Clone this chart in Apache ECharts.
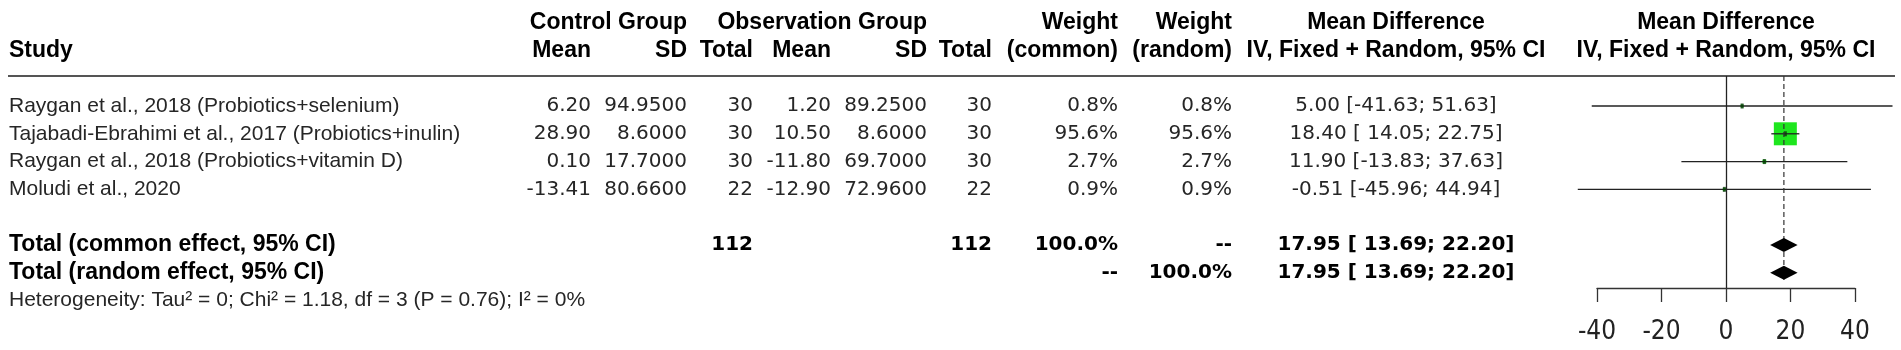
<!DOCTYPE html>
<html>
<head>
<meta charset="utf-8">
<script src="https://cdn.jsdelivr.net/npm/echarts@6/dist/echarts.min.js"></script>
<style>
html,body{margin:0;padding:0;background:#fff;}
#chart{width:1901px;height:350px;}
</style>
</head>
<body>
<div id="chart"></div>
<script>
// ---------------- data ----------------
const studies = [
  'Raygan et al., 2018 (Probiotics+selenium)',
  'Tajabadi-Ebrahimi et al., 2017 (Probiotics+inulin)',
  'Raygan et al., 2018 (Probiotics+vitamin D)',
  'Moludi et al., 2020'
];
const ctrlMean = [6.20, 28.90, 0.10, -13.41];
const ctrlSD   = [94.95, 8.60, 17.70, 80.66];
const ctrlN    = [30, 30, 30, 22];
const obsMean  = [1.20, 10.50, -11.80, -12.90];
const obsSD    = [89.25, 8.60, 69.70, 72.96];
const obsN     = [30, 30, 30, 22];
const weightCommon = [0.8, 95.6, 2.7, 0.9];
const weightRandom = [0.8, 95.6, 2.7, 0.9];
const md   = [5.00, 18.40, 11.90, -0.51];
const mdLo = [-41.63, 14.05, -13.83, -45.96];
const mdHi = [51.63, 22.75, 37.63, 44.94];

const pooledLabels = ['Total (common effect, 95% CI)', 'Total (random effect, 95% CI)'];
const totalCtrlN = 112;
const totalObsN = 112;
const pooledMD = [17.95, 17.95];
const pooledLo = [13.69, 13.69];
const pooledHi = [22.20, 22.20];
const heterogeneity = 'Heterogeneity: Tau\u00b2 = 0; Chi\u00b2 = 1.18, df = 3 (P = 0.76); I\u00b2 = 0%';

const xTickMin = -40, xTickMax = 40, xTickInterval = 20;

// ---------------- layout ----------------
const studyRows = [0, 1, 2, 3];
const pooledRows = [5, 6];
const hetRow = 7;
const FONT_TXT = "'Liberation Sans', Arial, sans-serif";
const FONT_NUM = "'DejaVu Sans', sans-serif";
const FONT_TICK = "'Liberation Sans Narrow', 'DejaVu Sans Condensed', 'Liberation Sans', sans-serif";
const C_TXT = '#262626';
const C_BOLD = '#000';
const GREEN = '#1ee61e';

const maxW = Math.max.apply(null, weightCommon);

const ciData = studyRows.map((r, i) => [r, md[i], mdLo[i], mdHi[i], weightCommon[i]]);
const diaData = pooledRows.map((r, i) => [r, pooledMD[i], pooledLo[i], pooledHi[i]]);

const chart = echarts.init(document.getElementById('chart'), null, {renderer: 'canvas'});

chart.setOption({
  backgroundColor: '#fff',
  animation: false,
  grid: [
    {left: 1597, width: 258, top: 76, height: 212},
    {left: 1597, width: 258, top: 280, height: 8}
  ],
  xAxis: [
    {gridIndex: 0, type: 'value', min: xTickMin, max: xTickMax, show: false},
    {gridIndex: 1, type: 'value', min: xTickMin, max: xTickMax, interval: xTickInterval,
      position: 'bottom',
      axisLine: {show: true, onZero: false, lineStyle: {color: '#333', width: 1.3}},
      axisTick: {show: true, length: 14, lineStyle: {color: '#333', width: 1.3}},
      axisLabel: {show: true, fontSize: 26, fontFamily: FONT_TICK, color: '#222', margin: 31,
        showMinLabel: true, showMaxLabel: true},
      splitLine: {show: false}}
  ],
  yAxis: [
    {gridIndex: 0, type: 'value', inverse: true, min: -1.08, max: 6.55, show: false},
    {gridIndex: 1, type: 'value', show: false}
  ],
  series: [
    {
      type: 'custom', name: 'studies', xAxisIndex: 0, yAxisIndex: 0,
      data: ciData, encode: {x: [1, 2, 3], y: 0}, clip: false, silent: true,
      renderItem: function (params, api) {
        const r = api.value(0), est = api.value(1), lo = api.value(2), hi = api.value(3), w = api.value(4);
        const pE = api.coord([est, r]), pL = api.coord([lo, r]), pH = api.coord([hi, r]);
        const s = Math.max(3, 23 * Math.sqrt(w / maxW));
        return {type: 'group', children: [
          {type: 'rect', shape: {x: pE[0] - s / 2, y: pE[1] - s / 2, width: s, height: s},
            style: {fill: GREEN}},
          {type: 'line', shape: {x1: pL[0], y1: pL[1], x2: pH[0], y2: pH[1]},
            style: {stroke: '#222', lineWidth: 1.3}},
          {type: 'rect', shape: {x: pE[0] - 1.5, y: pE[1] - 2.5, width: 3, height: 5},
            style: {fill: '#0a3a0a', opacity: 0.8}}
        ]};
      },
      markLine: {
        silent: true, symbol: 'none', label: {show: false},
        lineStyle: {color: '#222', width: 1.3, type: 'solid'},
        data: [{xAxis: 0}]
      }
    },
    {
      type: 'custom', name: 'refline', xAxisIndex: 0, yAxisIndex: 0,
      data: [[pooledRows[pooledRows.length - 1], pooledMD[0]]], encode: {x: 1, y: 0}, clip: false, silent: true,
      renderItem: function (params, api) {
        const p = api.coord([api.value(1), api.value(0)]);
        return {type: 'line', shape: {x1: p[0], y1: params.coordSys.y, x2: p[0], y2: p[1] + 7},
          style: {stroke: '#333', lineWidth: 1.2, lineDash: [5, 3]}};
      }
    },
    {
      type: 'custom', name: 'pooled', xAxisIndex: 0, yAxisIndex: 0,
      data: diaData, encode: {x: [1, 2, 3], y: 0}, clip: false, silent: true,
      renderItem: function (params, api) {
        const r = api.value(0);
        const pE = api.coord([api.value(1), r]), pL = api.coord([api.value(2), r]), pH = api.coord([api.value(3), r]);
        return {type: 'polygon', shape: {points: [[pL[0], pL[1]], [pE[0], pE[1] - 7], [pH[0], pH[1]], [pE[0], pE[1] + 7]]},
          style: {fill: '#000'}};
      }
    }
  ]
});

// ---------------- table text ----------------
const yOf = r => chart.convertToPixel({gridIndex: 0}, [0, r])[1];
const x0 = chart.convertToPixel({gridIndex: 0}, [0, 0])[0];
const els = [];
function txt(text, x, r, align, font, size, bold, color) {
  els.push({type: 'text', x: x, y: yOf(r), silent: true,
    style: {text: text, fontFamily: font, fontSize: size, fontWeight: bold ? 'bold' : 'normal',
      fill: color || (bold ? C_BOLD : C_TXT), align: align, verticalAlign: 'middle'}});
}
const HB = 23;
// headers
txt('Control Group', 687, -3, 'right', FONT_TXT, HB, true);
txt('Observation Group', 927, -3, 'right', FONT_TXT, HB, true);
txt('Weight', 1118, -3, 'right', FONT_TXT, HB, true);
txt('Weight', 1232, -3, 'right', FONT_TXT, HB, true);
txt('Mean Difference', 1396, -3, 'center', FONT_TXT, HB, true);
txt('Mean Difference', x0, -3, 'center', FONT_TXT, HB, true);
txt('Study', 9, -2, 'left', FONT_TXT, HB, true);
txt('Mean', 591, -2, 'right', FONT_TXT, HB, true);
txt('SD', 687, -2, 'right', FONT_TXT, HB, true);
txt('Total', 753, -2, 'right', FONT_TXT, HB, true);
txt('Mean', 831, -2, 'right', FONT_TXT, HB, true);
txt('SD', 927, -2, 'right', FONT_TXT, HB, true);
txt('Total', 992, -2, 'right', FONT_TXT, HB, true);
txt('(common)', 1118, -2, 'right', FONT_TXT, HB, true);
txt('(random)', 1232, -2, 'right', FONT_TXT, HB, true);
txt('IV, Fixed + Random, 95% CI', 1396, -2, 'center', FONT_TXT, HB, true);
txt('IV, Fixed + Random, 95% CI', x0, -2, 'center', FONT_TXT, HB, true);

const ci = (e, l, h) => e.toFixed(2) + ' [' + (l >= 0 ? ' ' : '') + l.toFixed(2) + '; ' + h.toFixed(2) + ']';
const NS = 20;
studyRows.forEach((r, i) => {
  txt(studies[i], 9, r, 'left', FONT_TXT, 21, false);
  txt(ctrlMean[i].toFixed(2), 591, r, 'right', FONT_NUM, NS, false);
  txt(ctrlSD[i].toFixed(4), 687, r, 'right', FONT_NUM, NS, false);
  txt(String(ctrlN[i]), 753, r, 'right', FONT_NUM, NS, false);
  txt(obsMean[i].toFixed(2), 831, r, 'right', FONT_NUM, NS, false);
  txt(obsSD[i].toFixed(4), 927, r, 'right', FONT_NUM, NS, false);
  txt(String(obsN[i]), 992, r, 'right', FONT_NUM, NS, false);
  txt(weightCommon[i].toFixed(1) + '%', 1118, r, 'right', FONT_NUM, NS, false);
  txt(weightRandom[i].toFixed(1) + '%', 1232, r, 'right', FONT_NUM, NS, false);
  txt(ci(md[i], mdLo[i], mdHi[i]), 1396, r, 'center', FONT_NUM, NS, false);
});
pooledRows.forEach((r, i) => {
  txt(pooledLabels[i], 9, r, 'left', FONT_TXT, HB, true);
  txt(ci(pooledMD[i], pooledLo[i], pooledHi[i]), 1396, r, 'center', FONT_NUM, NS, true);
});
const sumW = v => v.reduce((a, b) => a + b, 0);
txt(String(totalCtrlN), 753, pooledRows[0], 'right', FONT_NUM, NS, true);
txt(String(totalObsN), 992, pooledRows[0], 'right', FONT_NUM, NS, true);
txt(Math.round(sumW(weightCommon)).toFixed(1) + '%', 1118, pooledRows[0], 'right', FONT_NUM, NS, true);
txt('--', 1232, pooledRows[0], 'right', FONT_NUM, NS, true);
txt('--', 1118, pooledRows[1], 'right', FONT_NUM, NS, true);
txt(Math.round(sumW(weightRandom)).toFixed(1) + '%', 1232, pooledRows[1], 'right', FONT_NUM, NS, true);
txt(heterogeneity, 9, hetRow, 'left', FONT_TXT, 21, false);

// header separator
const ySep = chart.convertToPixel({gridIndex: 0}, [0, -1.08])[1];
els.push({type: 'line', silent: true, shape: {x1: 8, y1: ySep, x2: 1895, y2: ySep},
  style: {stroke: '#555', lineWidth: 2}});

chart.setOption({graphic: {elements: els}});
</script>
</body>
</html>
